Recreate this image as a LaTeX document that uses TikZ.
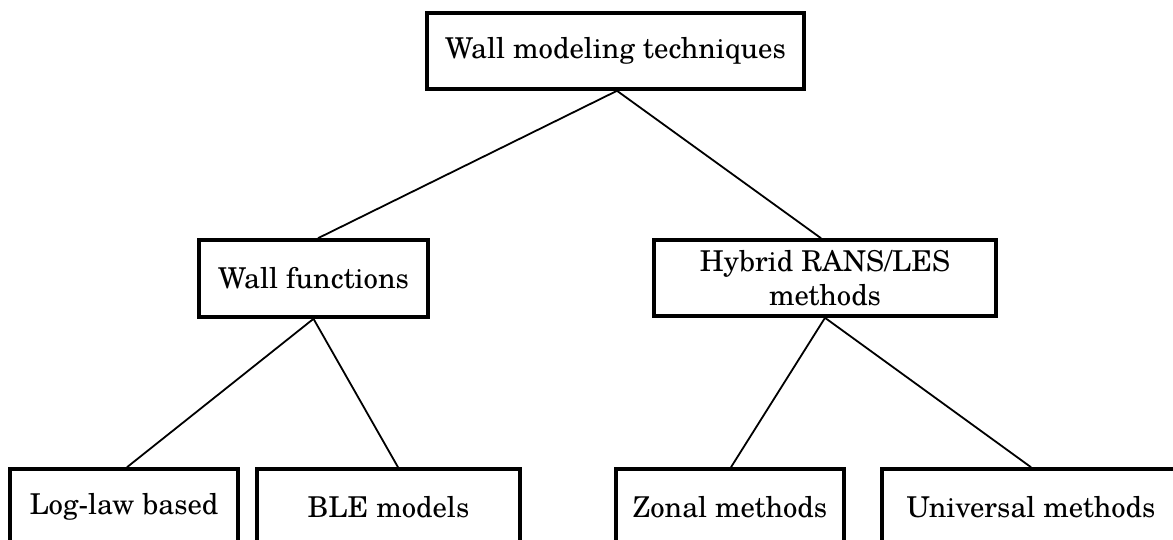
\documentclass[tikz,border=0pt]{standalone}
\usepackage{fontspec}
\setmainfont{TeX Gyre Schola}
\begin{document}
\begin{tikzpicture}[x=1pt,y=1pt,
  box/.style={draw, line width=3.6pt, inner sep=0pt, align=center,
    font=\fontsize{28.7}{34}\selectfont},
  link/.style={line width=1.8pt}]
\clip (0,0) rectangle (1173,-539);
\fill[white] (0,0) rectangle (1173,-539);
\node[box, minimum width=377pt, minimum height=76pt] (top) at (615.5,-51) {Wall modeling techniques};
\node[box, minimum width=229pt, minimum height=77pt] (wf) at (313.5,-278.5) {Wall functions};
\node[box, minimum width=342pt, minimum height=76pt] (hy) at (825,-278) {Hybrid RANS/LES\\methods};
\node[box, minimum width=228pt, minimum height=76pt] (log) at (124,-507) {Log-law based};
\node[box, minimum width=263pt, minimum height=76pt] (ble) at (388.5,-507) {BLE models};
\node[box, minimum width=228pt, minimum height=76pt] (zon) at (730,-507) {Zonal methods};
\node[box, minimum width=298pt, minimum height=76pt] (uni) at (1031,-507) {Universal methods};
\draw[link] ([xshift=1.5pt]top.south) -- ([xshift=4.5pt]wf.north);
\draw[link] ([xshift=1.5pt]top.south) -- ([xshift=-4pt]hy.north);
\draw[link] (wf.south) -- ([xshift=3pt]log.north);
\draw[link] (wf.south) -- ([xshift=9.5pt]ble.north);
\draw[link] (hy.south) -- ([xshift=1pt]zon.north);
\draw[link] (hy.south) -- (uni.north);
\end{tikzpicture}
\end{document}
